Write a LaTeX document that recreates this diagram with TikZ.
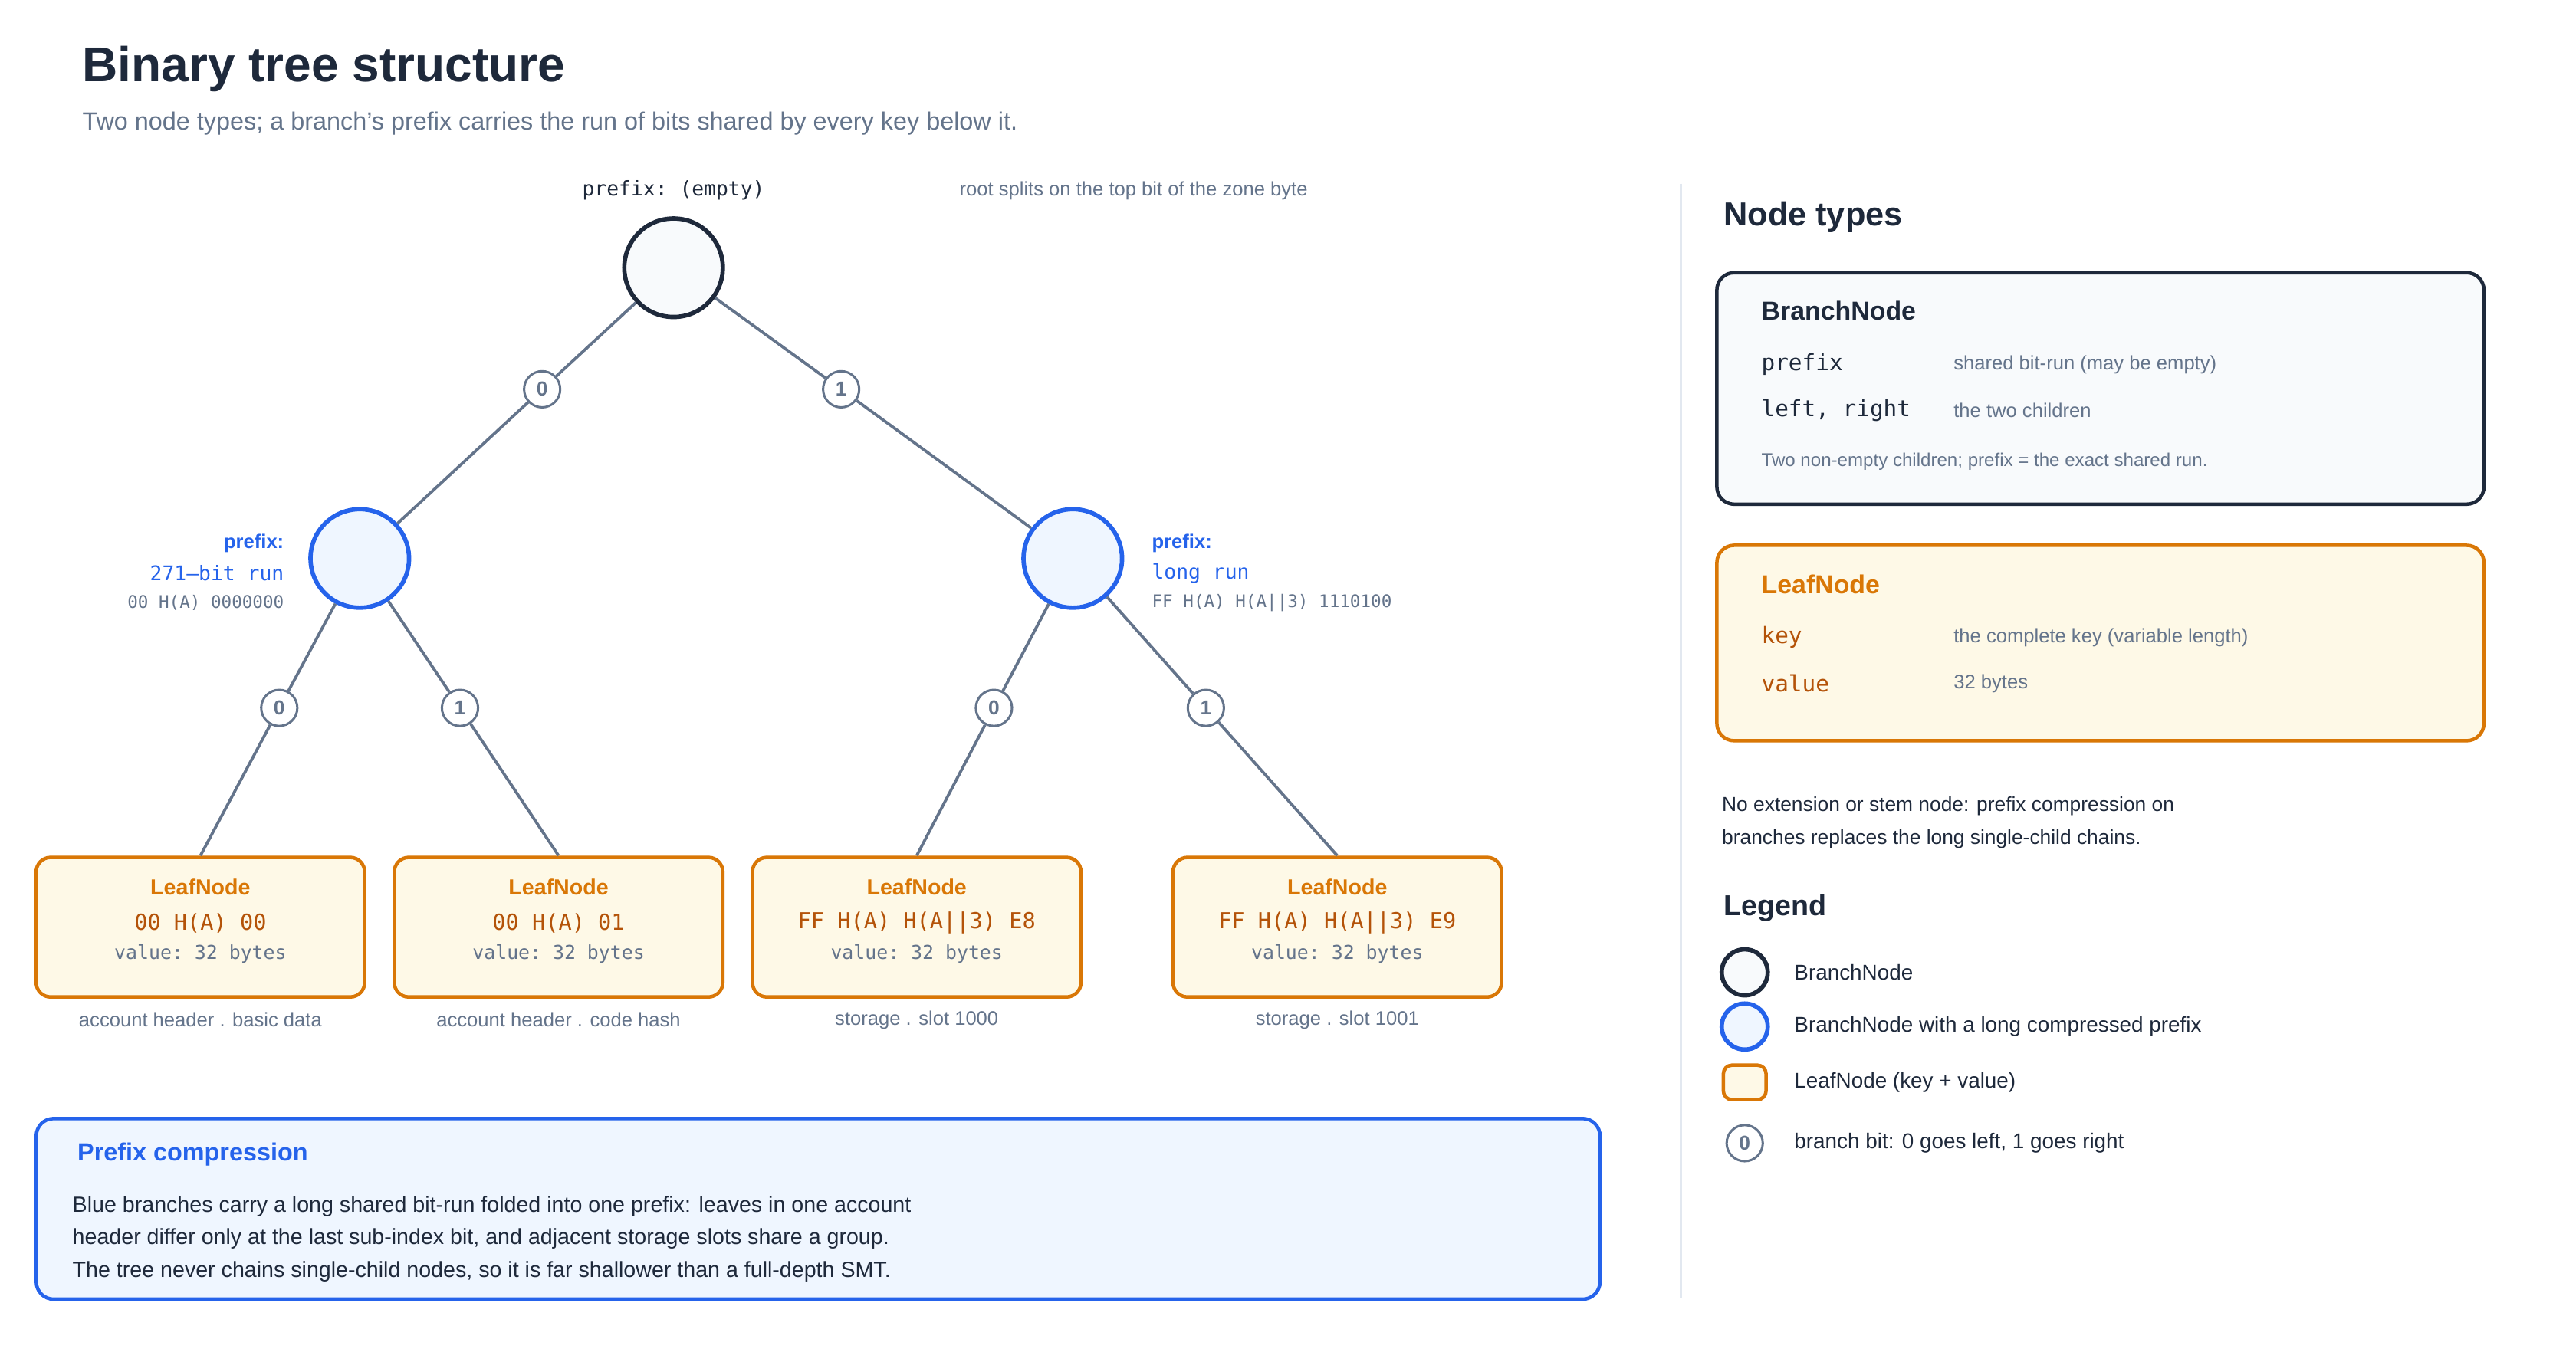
\documentclass[tikz,border=0pt]{standalone}
\usepackage{fontspec}
\setmainfont{Liberation Sans}
\setsansfont{Liberation Sans}
\setmonofont{DejaVu Sans Mono}
\definecolor{ink}{HTML}{1E293B}
\definecolor{slate}{HTML}{64748B}
\definecolor{bluec}{HTML}{2563EB}
\definecolor{bluef}{HTML}{EFF6FF}
\definecolor{orangec}{HTML}{D97706}
\definecolor{orangef}{HTML}{FEF9E7}
\definecolor{brownc}{HTML}{B45309}
\definecolor{rootf}{HTML}{F8FAFC}
\definecolor{rulec}{HTML}{E2E8F0}
\begin{document}
\begin{tikzpicture}
        [x=0.02cm, y=-0.02cm,
        branch/.style={circle, draw=ink, line width=1.5pt, fill=rootf, minimum size=1.2cm, inner sep=0},
        longbranch/.style={circle, draw=bluec, line width=1.5pt, fill=bluef, minimum size=1.2cm, inner sep=0},
        bit/.style={circle, draw=slate, line width=0.8pt, fill=white, minimum size=0.44cm, inner sep=0, font=\sffamily\bfseries\fontsize{7}{8}\selectfont, text=slate},
        leaf/.style={rectangle, rounded corners=5pt, draw=orangec, line width=1.2pt, fill=orangef, minimum width=4cm, minimum height=1.7cm},
        edge/.style={slate, line width=1pt},
        caption/.style={font=\fontsize{6.8}{8}\selectfont, text=slate},
        mono/.style={font=\ttfamily\fontsize{7}{8}\selectfont},
        card/.style={rounded corners=6pt, line width=1.2pt}]
        \useasboundingbox[fill=white] (0,0) rectangle (1568,821);

        % heading
        \node[anchor=west, font=\bfseries\fontsize{17}{20}\selectfont, text=ink] (title) at (44,42) {Binary tree structure};
        \node[anchor=west, font=\fontsize{8.6}{10}\selectfont, text=slate] (sub) at (44,75) {Two node types; a branch's prefix carries the run of bits shared by every key below it.};

        % branch nodes
        \node[branch] (root) at (410,163) {};
        \node[longbranch] (lb) at (219,340) {};
        \node[longbranch] (rb) at (653,340) {};
        \node[mono, text=ink] (rootp) at (410,116) {prefix: (empty)};
        \node[caption] (rootn) at (690,116) {root splits on the top bit of the zone byte};

        \node[anchor=east, font=\bfseries\fontsize{6.8}{8}\selectfont, text=bluec] (lbp) at (179,331) {prefix:};
        \node[anchor=east, mono, text=bluec] (lbr) at (179,349) {271–bit run};
        \node[anchor=east, mono, font=\ttfamily\fontsize{6}{7}\selectfont, text=slate] (lbk) at (179,367) {00 H(A) 0000000};
        \node[anchor=west, font=\bfseries\fontsize{6.8}{8}\selectfont, text=bluec] (rbp) at (695,331) {prefix:};
        \node[anchor=west, mono, text=bluec] (rbr) at (695,349) {long run};
        \node[anchor=west, mono, font=\ttfamily\fontsize{6}{7}\selectfont, text=slate] (rbk) at (695,367) {FF H(A) H(A||3) 1110100};

        % leaves
        \foreach \n/\x/\k/\c in {l1/122/00 H(A) 00/account header . basic data,
                                 l2/340/00 H(A) 01/account header . code hash,
                                 l3/558/FF H(A) H(A||3) E8/storage . slot 1000,
                                 l4/814/FF H(A) H(A||3) E9/storage . slot 1001}{
          \node[leaf] (\n) at (\x,564.5) {};
          \node[font=\bfseries\fontsize{7.6}{9}\selectfont, text=orangec] (\n t) at (\x,540) {LeafNode};
          \node[mono, font=\ttfamily\fontsize{7.6}{9}\selectfont, text=brownc] (\n k) at (\x,562) {\k};
          \node[mono, font=\ttfamily\fontsize{6.6}{8}\selectfont, text=slate] (\n v) at (\x,581) {value: 32 bytes};
          \node[caption] (\n c) at (\x,621) {\c};
        }

        % bits
        \node[bit] (r0) at (330,237) {0};
        \node[bit] (r1) at (512,237) {1};
        \node[bit] (a0) at (170,431) {0};
        \node[bit] (a1) at (280,431) {1};
        \node[bit] (b0) at (605,431) {0};
        \node[bit] (b1) at (734,431) {1};

        % edges
        \draw[edge] (root) -- (r0) -- (lb);
        \draw[edge] (root) -- (r1) -- (rb);
        \draw[edge] (lb) -- (a0) -- (l1.north);
        \draw[edge] (lb) -- (a1) -- (l2.north);
        \draw[edge] (rb) -- (b0) -- (l3.north);
        \draw[edge] (rb) -- (b1) -- (l4.north);

        % prefix compression box
        \node[card, draw=bluec, fill=bluef, minimum width=19.04cm, minimum height=2.2cm] (pc) at (498,736) {};
        \node[anchor=west, font=\bfseries\fontsize{8.6}{10}\selectfont, text=bluec] (pct) at (41,703) {Prefix compression};
        \node[anchor=north west, align=left, font=\fontsize{7.6}{11.3}\selectfont, text=ink] (pcx) at (38,722) {Blue branches carry a long shared bit-run folded into one prefix: leaves in one account\\header differ only at the last sub-index bit, and adjacent storage slots share a group.\\The tree never chains single-child nodes, so it is far shallower than a full-depth SMT.};

        % side panel
        \draw[rulec, line width=0.8pt] (1023,112) -- (1023,790);
        \node[anchor=west, font=\bfseries\fontsize{11.5}{13}\selectfont, text=ink] (nt) at (1043,132) {Node types};
        \node[card, draw=ink, fill=rootf, minimum width=9.34cm, minimum height=2.82cm] (bn) at (1278.5,236.5) {};
        \node[anchor=west, font=\bfseries\fontsize{9}{10}\selectfont, text=ink] (bnt) at (1066,189) {BranchNode};
        \node[anchor=west, mono, font=\ttfamily\fontsize{7.8}{9}\selectfont, text=ink] (bn1) at (1066,222) {prefix};
        \node[anchor=west, caption] (bn1d) at (1183,222) {shared bit-run (may be empty)};
        \node[anchor=west, mono, font=\ttfamily\fontsize{7.8}{9}\selectfont, text=ink] (bn2) at (1066,250) {left, right};
        \node[anchor=west, caption] (bn2d) at (1183,250) {the two children};
        \node[anchor=west, caption, font=\fontsize{6.4}{8}\selectfont] (bnn) at (1066,281) {Two non-empty children; prefix = the exact shared run.};

        \node[card, draw=orangec, fill=orangef, minimum width=9.34cm, minimum height=2.38cm] (ln) at (1278.5,391.5) {};
        \node[anchor=west, font=\bfseries\fontsize{9}{10}\selectfont, text=orangec] (lnt) at (1066,356) {LeafNode};
        \node[anchor=west, mono, font=\ttfamily\fontsize{7.8}{9}\selectfont, text=brownc] (ln1) at (1066,388) {key};
        \node[anchor=west, caption] (ln1d) at (1183,388) {the complete key (variable length)};
        \node[anchor=west, mono, font=\ttfamily\fontsize{7.8}{9}\selectfont, text=brownc] (ln2) at (1066,416) {value};
        \node[anchor=west, caption] (ln2d) at (1183,416) {32 bytes};

        \node[anchor=north west, align=left, font=\fontsize{7}{11.3}\selectfont, text=ink] (note) at (1042,479) {No extension or stem node: prefix compression on\\branches replaces the long single-child chains.};

        % legend
        \node[anchor=west, font=\bfseries\fontsize{10}{12}\selectfont, text=ink] (lg) at (1043,553) {Legend};
        \node[branch, minimum size=0.56cm] (lg1) at (1062,592) {};
        \node[longbranch, minimum size=0.56cm] (lg2) at (1062,625) {};
        \node[leaf, rounded corners=3pt, minimum width=0.52cm, minimum height=0.42cm] (lg3) at (1062,659) {};
        \node[bit] (lg4) at (1062,696) {0};
        \node[anchor=west, font=\fontsize{7.4}{9}\selectfont, text=ink] (lg1t) at (1086,592) {BranchNode};
        \node[anchor=west, font=\fontsize{7.4}{9}\selectfont, text=ink] (lg2t) at (1086,625) {BranchNode with a long compressed prefix};
        \node[anchor=west, font=\fontsize{7.4}{9}\selectfont, text=ink] (lg3t) at (1086,659) {LeafNode (key + value)};
        \node[anchor=west, font=\fontsize{7.4}{9}\selectfont, text=ink] (lg4t) at (1086,696) {branch bit: 0 goes left, 1 goes right};
\end{tikzpicture}
\end{document}
